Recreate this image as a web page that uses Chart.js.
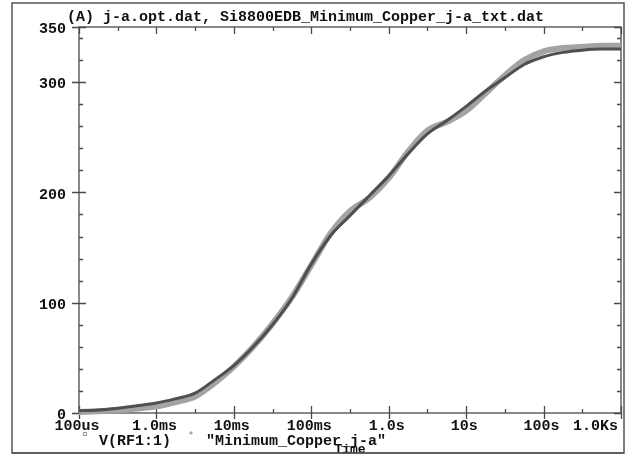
<!DOCTYPE html>
<html><head><meta charset="utf-8">
<script src="https://cdn.jsdelivr.net/npm/chart.js@4/dist/chart.umd.min.js"></script>
<style>html,body{margin:0;padding:0;background:#fff}canvas{display:block}</style>
</head><body>
<canvas id="c" width="630" height="458"></canvas>
<script>
const chartTitle = '(A) j-a.opt.dat, Si8800EDB_Minimum_Copper_j-a_txt.dat';
const xAxisTitle = 'Time';
const seriesNames = ['V(RF1:1)', '"Minimum_Copper_j-a"'];
const times = [1e-4,1.78e-4,3.16e-4,5.62e-4,1e-3,1.78e-3,3.16e-3,5.62e-3,1e-2,1.78e-2,3.16e-2,5.62e-2,0.1,0.178,0.316,0.562,1,1.78,3.16,5.62,10,17.8,31.6,56.2,100,178,316,562,1000];
const vRF = [2,2.7,4.4,6.5,9,13,18,30,43,60,80,104,135,161,179,197,215,235,253,265,278,292,304,316,323,327,329,330,330];
const minCopper = [1,1.5,2.5,4,6,10,15,27,42,60,81,105,134,163,183,195,213,237,256,264,274,290,306,320,328,331,332,333,333];
const xTickValues = [1e-4,1e-3,1e-2,1e-1,1,10,100,1000];
const xTickLabels = ['100us','1.0ms','10ms','100ms','1.0s','10s','100s','1.0Ks'];
const xMinorTicks = [3.16e-4,3.16e-3,3.16e-2,0.316,3.16,31.6,316];
const yTickValues = [0,100,200,300,350];
const yTickLabels = ['0','100','200','300','350'];
const yMinorTicks = [20,40,60,80,120,140,160,180,220,240,260,280,320,340];

const FONT = 'bold 15px "Liberation Mono", "DejaVu Sans Mono", monospace';
const AX = '#4a4a4a';

const deco = {
  id: 'deco',
  beforeDatasetsDraw(chart) {
    const {ctx, chartArea: a} = chart;
    ctx.save();
    ctx.strokeStyle = '#555';
    ctx.lineWidth = 1.5;
    ctx.strokeRect(12, 3, 612, 450);
    ctx.strokeStyle = AX;
    ctx.lineWidth = 1.3;
    ctx.strokeRect(a.left, a.top, a.right - a.left, a.bottom - a.top);
    const xs = chart.scales.x, ys = chart.scales.y;
    ctx.beginPath();
    xTickValues.forEach(v => {
      const p = Math.round(xs.getPixelForValue(v)) + 0.5;
      ctx.moveTo(p, a.bottom + 6); ctx.lineTo(p, a.bottom - 7);
      ctx.moveTo(p, a.top); ctx.lineTo(p, a.top + 7);
    });
    xMinorTicks.forEach(v => {
      const p = Math.round(xs.getPixelForValue(v)) + 0.5;
      ctx.moveTo(p, a.bottom); ctx.lineTo(p, a.bottom - 4);
      ctx.moveTo(p, a.top); ctx.lineTo(p, a.top + 4);
    });
    yTickValues.forEach(v => {
      const p = Math.round(ys.getPixelForValue(v)) + 0.5;
      ctx.moveTo(a.left - 7, p); ctx.lineTo(a.left + 7, p);
      ctx.moveTo(a.right, p); ctx.lineTo(a.right - 7, p);
    });
    yMinorTicks.forEach(v => {
      const p = Math.round(ys.getPixelForValue(v)) + 0.5;
      ctx.moveTo(a.left, p); ctx.lineTo(a.left + 4, p);
      ctx.moveTo(a.right, p); ctx.lineTo(a.right - 4, p);
    });
    ctx.stroke();

    ctx.fillStyle = '#111';
    ctx.font = FONT;
    ctx.textBaseline = 'middle';
    ctx.textAlign = 'left';
    ctx.fillText(chartTitle, 67, 17);
    ctx.textAlign = 'right';
    yTickValues.forEach((v, i) => {
      ctx.fillText(yTickLabels[i], a.left - 13, ys.getPixelForValue(v) + 2.5);
    });
    xTickValues.forEach((v, i) => {
      const p = xs.getPixelForValue(v);
      if (i === xTickValues.length - 1) { ctx.textAlign = 'right'; ctx.fillText(xTickLabels[i], p - 3, 426); }
      else { ctx.textAlign = 'center'; ctx.fillText(xTickLabels[i], p - 2, 426); }
    });
    // legend
    ctx.textAlign = 'left';
    ctx.fillText(seriesNames[0], 99, 441);
    ctx.fillText(seriesNames[1], 206, 441);
    ctx.strokeStyle = '#999'; ctx.lineWidth = 1;
    ctx.strokeRect(83.5, 432.5, 3, 3);
    ctx.fillStyle = '#aaa';
    ctx.beginPath(); ctx.moveTo(191, 431); ctx.lineTo(193, 433); ctx.lineTo(191, 435); ctx.lineTo(189, 433); ctx.closePath(); ctx.fill();
    ctx.fillStyle = '#111';
    ctx.textAlign = 'center';
    ctx.font = 'bold 13px "Liberation Mono", "DejaVu Sans Mono", monospace';
    ctx.fillText(xAxisTitle, 350, 450);
    ctx.restore();
  },
  afterDraw(chart) {
    const {ctx} = chart;
    ctx.save();
    ctx.fillStyle = '#fff';
    ctx.fillRect(0, 454, 630, 4);
    ctx.strokeStyle = '#555';
    ctx.lineWidth = 1.5;
    ctx.beginPath(); ctx.moveTo(12, 453); ctx.lineTo(624, 453); ctx.stroke();
    ctx.restore();
  }
};

new Chart(document.getElementById('c'), {
  type: 'scatter',
  data: {
    datasets: [
      { label: seriesNames[0], data: times.map((t, i) => ({x: t, y: vRF[i]})), showLine: true,
        borderColor: '#4f4f4f', borderWidth: 3, pointRadius: 0, cubicInterpolationMode: 'monotone', order: 0, clip: 6 },
      { label: seriesNames[1], data: times.map((t, i) => ({x: t, y: minCopper[i]})), showLine: true,
        borderColor: '#a3a3a3', borderWidth: 6, pointRadius: 0, cubicInterpolationMode: 'monotone', order: 1, clip: 6 }
    ]
  },
  options: {
    responsive: false, animation: false, devicePixelRatio: 1,
    layout: { padding: { left: 79, top: 27, right: 9, bottom: 45 } },
    plugins: { legend: { display: false }, tooltip: { enabled: false } },
    scales: {
      x: { type: 'logarithmic', min: 1e-4, max: 1000, display: false },
      y: { type: 'linear', min: 0, max: 350, display: false }
    }
  },
  plugins: [deco]
});
</script>
</body></html>
